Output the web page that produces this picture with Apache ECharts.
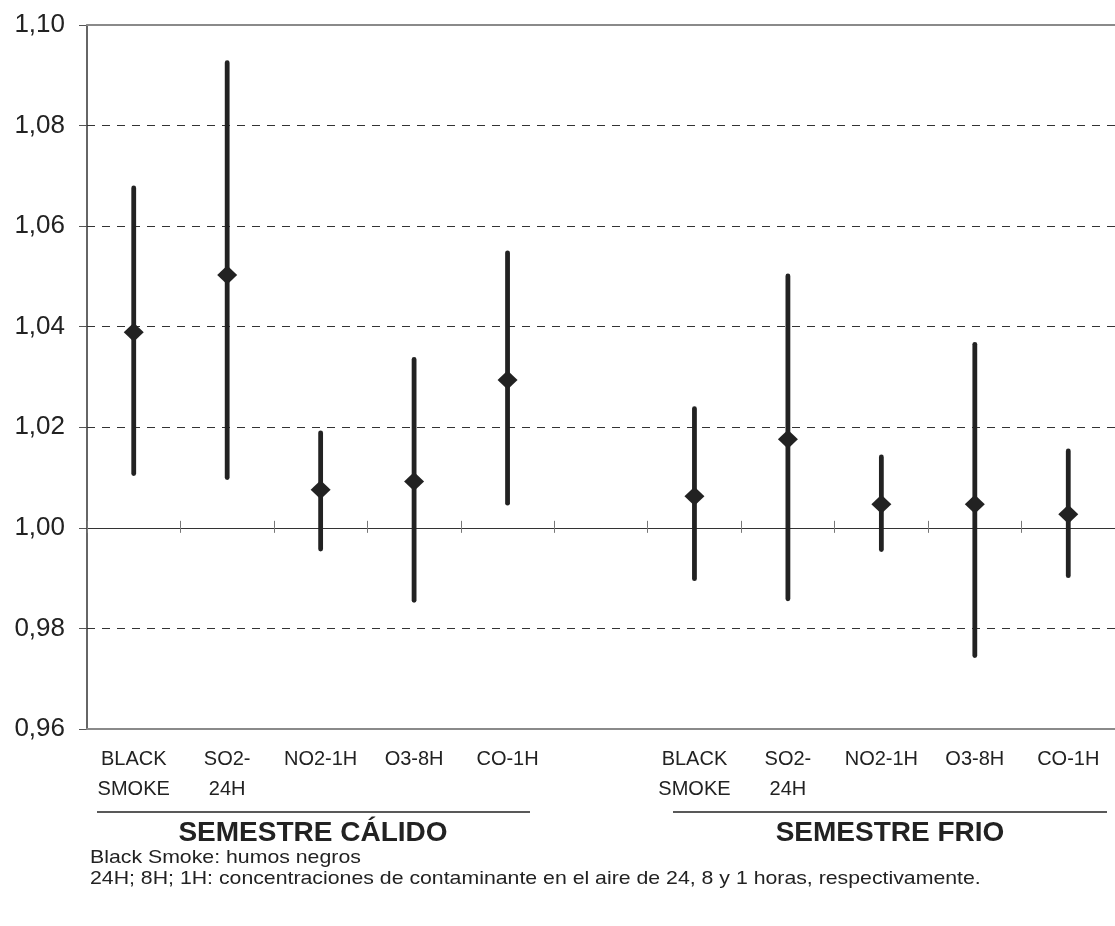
<!DOCTYPE html>
<html>
<head>
<meta charset="utf-8">
<script src="https://cdn.jsdelivr.net/npm/echarts@6/dist/echarts.min.js"></script>
<style>
  html, body { margin: 0; padding: 0; background: #fff; }
  #chart { width: 1115px; height: 926px; }
</style>
</head>
<body>
<div id="chart"></div>
<script>
// Pollutant categories (warm semester, gap, cold semester)
var categories = ['BLACK\nSMOKE', 'SO2-\n24H', 'NO2-1H', 'O3-8H', 'CO-1H', '',
                  'BLACK\nSMOKE', 'SO2-\n24H', 'NO2-1H', 'O3-8H', 'CO-1H'];
// Point estimates (relative risk)
var estimate = [1.0389, 1.0503, 1.0076, 1.0092, 1.0294, null, 1.0063, 1.0176, 1.0047, 1.0047, 1.0027];
// Lower confidence limit
var lower = [1.0108, 1.0100, 0.9958, 0.9856, 1.0049, null, 0.9899, 0.9859, 0.9957, 0.9746, 0.9905];
// Upper confidence limit
var upper = [1.0676, 1.0925, 1.0189, 1.0335, 1.0547, null, 1.0237, 1.0501, 1.0141, 1.0365, 1.0153];
// Value axis range
var yMin = 0.96, yMax = 1.10, yStep = 0.02, yRef = 1.00;

var FONT = '"Liberation Sans", Arial, sans-serif';
var INK = '#222';

var gridTop = 25, gridHeight = 704, gridLeft = 87, gridWidth = 1041;
// distance of the reference line (1,00) above the bottom edge of the plot
var refOffset = -gridHeight * (yRef - yMin) / (yMax - yMin);

var intervals = [], points = [];
for (var i = 0; i < categories.length; i++) {
  if (estimate[i] == null) continue;
  intervals.push([i, lower[i], upper[i]]);
  points.push([i, estimate[i]]);
}

var chart = echarts.init(document.getElementById('chart'), null, { renderer: 'canvas' });

chart.setOption({
  animation: false,
  backgroundColor: '#fff',
  grid: { top: gridTop, left: gridLeft, width: gridWidth, height: gridHeight },
  xAxis: [
    { // bottom edge with category labels
      type: 'category', data: categories, position: 'bottom', z: 1,
      axisLine: { show: true, lineStyle: { color: '#8a8a8a', width: 2 } },
      axisTick: { show: false },
      axisLabel: { color: INK, fontFamily: FONT, fontSize: 20, lineHeight: 30, margin: 15, interval: 0 },
      splitLine: { show: false }
    },
    { // top edge
      type: 'category', data: categories, position: 'top', z: 1,
      axisLine: { show: true, lineStyle: { color: '#8a8a8a', width: 2 } },
      axisTick: { show: false }, axisLabel: { show: false }
    },
    { // reference line at 1,00 with ticks below
      type: 'category', data: categories, position: 'bottom', offset: refOffset, z: 1,
      axisLine: { show: true, onZero: false, lineStyle: { color: '#333', width: 1 } },
      axisTick: { show: true, inside: false, length: 5, lineStyle: { color: '#777', width: 1 } },
      axisLabel: { show: false }
    },
    { // ticks above the reference line
      type: 'category', data: categories, position: 'bottom', offset: refOffset, z: 1,
      axisLine: { show: false, onZero: false },
      axisTick: { show: true, inside: true, length: 7, lineStyle: { color: '#777', width: 1 } },
      axisLabel: { show: false }
    }
  ],
  yAxis: {
    type: 'value', min: yMin, max: yMax, interval: yStep, z: 0,
    axisLine: { show: true, lineStyle: { color: '#333', width: 1.5 } },
    axisTick: { show: true, length: 8, lineStyle: { color: '#555' } },
    axisLabel: {
      color: INK, fontFamily: FONT, fontSize: 26, margin: 22,
      formatter: function (v) { return v.toFixed(2).replace('.', ','); }
    },
    splitLine: { show: true, lineStyle: { color: '#333', type: [8, 7], width: 1 } }
  },
  series: [
    {
      type: 'custom',
      xAxisIndex: 0,
      data: intervals,
      encode: { x: 0, y: [1, 2] },
      renderItem: function (params, api) {
        var lo = api.coord([api.value(0), api.value(1)]);
        var hi = api.coord([api.value(0), api.value(2)]);
        return {
          type: 'line',
          shape: { x1: lo[0], y1: lo[1], x2: hi[0], y2: hi[1] },
          style: { stroke: INK, lineWidth: 4.8, lineCap: 'round' }
        };
      },
      z: 3
    },
    {
      type: 'scatter',
      xAxisIndex: 0,
      data: points,
      symbol: 'diamond',
      symbolSize: [20, 19],
      itemStyle: { color: INK, opacity: 1 },
      z: 4
    }
  ],
  graphic: [
    { type: 'line', shape: { x1: 97, y1: 812, x2: 530, y2: 812 }, style: { stroke: INK, lineWidth: 1.5 } },
    { type: 'line', shape: { x1: 673, y1: 812, x2: 1107, y2: 812 }, style: { stroke: INK, lineWidth: 1.5 } },
    { type: 'text', x: 313, y: 833, style: { text: 'SEMESTRE CÁLIDO', font: 'bold 28px ' + FONT, fill: INK, textAlign: 'center', textVerticalAlign: 'middle' } },
    { type: 'text', x: 890, y: 833, style: { text: 'SEMESTRE FRIO', font: 'bold 28px ' + FONT, fill: INK, textAlign: 'center', textVerticalAlign: 'middle' } },
    { type: 'text', x: 90, y: 858, scaleX: 1.12, style: { text: 'Black Smoke: humos negros', font: '19px ' + FONT, fill: INK, textAlign: 'left', textVerticalAlign: 'middle' } },
    { type: 'text', x: 90, y: 879, scaleX: 1.12, style: { text: '24H; 8H; 1H: concentraciones de contaminante en el aire de 24, 8 y 1 horas, respectivamente.', font: '19px ' + FONT, fill: INK, textAlign: 'left', textVerticalAlign: 'middle' } }
  ]
});
</script>
</body>
</html>
